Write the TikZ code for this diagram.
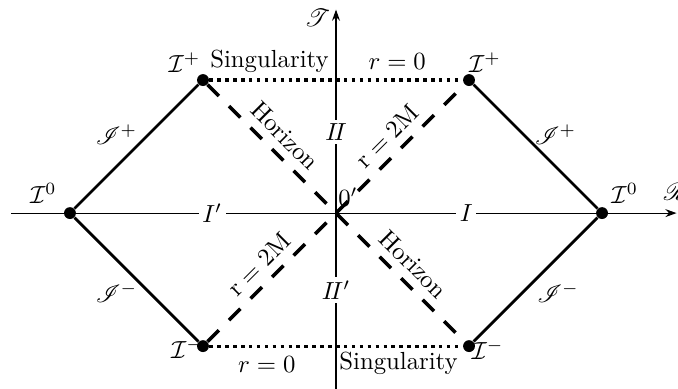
\documentclass[tikz,border=0pt]{standalone}
\usepackage{amsmath}
\usepackage{mathrsfs}
\usetikzlibrary{arrows.meta}

\begin{document}
\begin{tikzpicture}[
  x=1.89cm, y=1.89cm,
  dot/.style={circle, fill, inner sep=0pt, minimum size=4.8pt},
  axis/.style={line width=0.45pt},
  bound/.style={line width=1.1pt},
  horizon/.style={line width=1.4pt, dash pattern=on 6.5pt off 5.8pt},
  sing/.style={line width=1.3pt, dash pattern=on 1.4pt off 1.8pt},
  region/.style={fill=white, inner sep=1.5pt},
  >={Stealth[length=4.5pt, width=3.2pt]}
]
\useasboundingbox (-2.526,-1.316) rectangle (2.571,1.602);

% axes
\coordinate (xl) at (-2.44,0);
\coordinate (xr) at (2.56,0);
\coordinate (yb) at (0,-1.32);
\coordinate (yt) at (0,1.53);
\coordinate (o) at (0,0);
\draw[axis,->] (xl) -- (xr);
\draw[axis,->] (yb) -- (yt);
\node (tlab) at (-0.14,1.47) {$\mathscr{T}$};
\node[anchor=west] (rlab) at (2.40,0.16) {$\mathscr{R}$};

% corners of the diagram
\node[dot] (i0l) at (-2,0) {};
\node[dot] (i0r) at (2,0) {};
\node[dot] (ipl) at (-1,1) {};
\node[dot] (ipr) at (1,1) {};
\node[dot] (iml) at (-1,-1) {};
\node[dot] (imr) at (1,-1) {};

% null infinity
\draw[bound] (i0l) -- (ipl);
\draw[bound] (i0l) -- (iml);
\draw[bound] (i0r) -- (ipr);
\draw[bound] (i0r) -- (imr);

% horizons
\draw[horizon] (ipl) -- node[sloped, above, pos=0.5] {Horizon} (o)
  -- node[sloped, above, pos=0.5] {Horizon} (imr);
\draw[horizon] (iml) -- node[sloped, above, pos=0.5] {r${}={}$2M} (o)
  -- node[sloped, above, pos=0.5] {r${}={}$2M} (ipr);

% singularities
\draw[sing] (ipl) -- (ipr);
\draw[sing] (iml) -- (imr);

% labels
\node (l0l) at (-2.2,0.15) {$\mathcal{I}^0$};
\node (l0r) at (2.17,0.15) {$\mathcal{I}^0$};
\node (lpl) at (-1.14,1.13) {$\mathcal{I}^+$};
\node (lpr) at (1.12,1.13) {$\mathcal{I}^+$};
\node (lml) at (-1.12,-1.02) {$\mathcal{I}^-$};
\node (lmr) at (1.14,-1.03) {$\mathcal{I}^-$};
\node (s1) at (-0.5,1.14) {Singularity};
\node (r1) at (0.46,1.14) {$r=0$};
\node (r2) at (-0.52,-1.14) {$r=0$};
\node (s2) at (0.47,-1.13) {Singularity};
\node (jpl) at (-1.65,0.59) {$\mathscr{I}^+$};
\node (jpr) at (1.65,0.59) {$\mathscr{I}^+$};
\node (jml) at (-1.65,-0.6) {$\mathscr{I}^-$};
\node (jmr) at (1.67,-0.6) {$\mathscr{I}^-$};

% regions
\node[region] (rI) at (0.98,0) {$I$};
\node[region] (rIp) at (-0.93,0) {$I'$};
\node[region] (rII) at (0,0.61) {$I\!I$};
\node[region] (rIIp) at (0,-0.58) {$I\!I'$};
\node (op) at (0.09,0.12) {$0'$};
\end{tikzpicture}
\end{document}
